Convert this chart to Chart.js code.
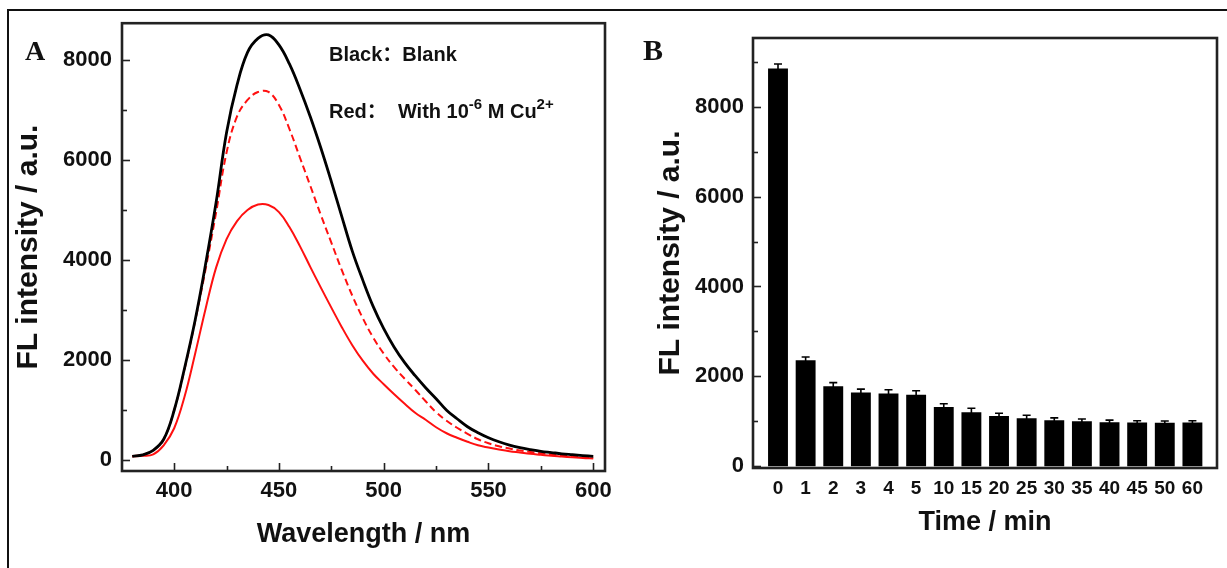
<!DOCTYPE html>
<html>
<head>
<meta charset="utf-8">
<script src="https://cdn.jsdelivr.net/npm/chart.js@4.4.1/dist/chart.umd.min.js"></script>
<style>
  html, body { margin: 0; padding: 0; background: #fff; }
  #wrap { position: relative; width: 1227px; height: 568px; overflow: hidden; }
  #frame { position: absolute; left: 7px; top: 9px; width: 1240px; height: 600px;
           border-left: 2px solid #111; border-top: 2px solid #111; }
  canvas { position: absolute; top: 0; }
  #chartA { left: 0; }
  #chartB { left: 620px; }
</style>
</head>
<body>
<div id="wrap">
  <div id="frame"></div>
  <canvas id="chartA" width="620" height="568"></canvas>
  <canvas id="chartB" width="607" height="568"></canvas>
</div>
<script>
// ---- panel A: emission spectra ----
const wavelengths = [380,385,390,395,400,405,410,415,420,425,430,435,440,445,450,455,460,465,470,475,
                     480,485,490,495,500,505,510,515,520,525,530,535,540,545,550,555,560,565,570,575,
                     580,585,590,595,600];
const blank = [80,110,200,420,1000,1850,2800,3920,5150,6550,7500,8150,8430,8500,8300,7920,7420,6860,6240,5570,
               4870,4180,3600,3070,2630,2260,1950,1690,1450,1230,1000,830,670,550,450,370,305,255,215,180,
               155,130,112,95,80];
const cuDashed = [80,110,200,420,1000,1830,2780,3820,4950,6150,6870,7200,7360,7360,7100,6620,6050,5480,4900,4350,
                  3800,3290,2840,2450,2130,1860,1630,1410,1180,960,790,650,530,420,340,280,235,195,165,140,
                  115,95,80,65,55];
const cuSolid = [80,90,120,300,640,1280,2130,3030,3850,4420,4780,5000,5110,5100,4960,4660,4280,3860,3450,3050,
                 2660,2300,1990,1730,1520,1320,1130,950,810,660,540,450,370,300,255,215,180,155,130,110,
                 90,75,60,45,35];
const specXTicks = [400,450,500,550,600];
const specXMinor = [425,475,525,575];
const specYTicks = [0,2000,4000,6000,8000];
const specYMinor = [1000,3000,5000,7000];

// ---- panel B: time course ----
const timeLabels = ['0','1','2','3','4','5','10','15','20','25','30','35','40','45','50','60'];
const fluor = [8850,2360,1780,1640,1620,1590,1320,1200,1120,1065,1025,1000,980,970,965,970];
const fluorErr = [100,70,80,75,80,90,70,90,60,70,50,50,45,40,40,40];
const barYTicks = [0,2000,4000,6000,8000];
const barYMinor = [1000,3000,5000,7000,9000];

const SANS = '"Liberation Sans", Arial, "Noto Sans CJK SC", sans-serif';
const SERIF = '"Liberation Serif", "Times New Roman", serif';
const INK = '#111';

// box round the plot area plus inward ticks on left and bottom
const frameTicks = {
  id: 'frameTicks',
  afterDraw(chart, args, opts) {
    const { ctx, chartArea: a, scales: { x, y } } = chart;
    ctx.save();
    ctx.strokeStyle = '#222';
    ctx.lineWidth = 1.6;
    const mark = (vals, len, onX) => (vals || []).forEach(v => {
      ctx.beginPath();
      if (onX) {
        const px = Math.round(x.getPixelForValue(v)) + 0.5;
        ctx.moveTo(px, a.bottom); ctx.lineTo(px, a.bottom - len);
      } else {
        const py = Math.round(y.getPixelForValue(v)) + 0.5;
        ctx.moveTo(a.left, py); ctx.lineTo(a.left + len, py);
      }
      ctx.stroke();
    });
    mark(opts.xMajor, 8, true);
    mark(opts.xMinor, 5, true);
    mark(opts.yMajor, 8, false);
    mark(opts.yMinor, 5, false);
    ctx.lineWidth = 2.6;
    ctx.strokeRect(a.left, a.top, a.right - a.left, a.bottom - a.top);
    ctx.restore();
  }
};

// panel letter and the little legend lines
const panelText = {
  id: 'panelText',
  afterDraw(chart, args, opts) {
    const ctx = chart.ctx;
    ctx.save();
    ctx.fillStyle = INK;
    ctx.textBaseline = 'alphabetic';
    ctx.font = 'bold ' + opts.letterSize + 'px ' + SERIF;
    ctx.fillText(opts.letter, opts.letterX, opts.letterY);
    (opts.lines || []).forEach(line => {
      let x = line.x;
      line.parts.forEach(([t, sup]) => {
        ctx.font = 'bold ' + (sup ? 15 : 20) + 'px ' + SANS;
        ctx.fillText(t, x, sup ? line.y - 9 : line.y);
        x += ctx.measureText(t).width;
      });
    });
    ctx.restore();
  }
};

const errorBars = {
  id: 'errorBars',
  afterDatasetsDraw(chart) {
    const { ctx, scales: { y } } = chart;
    const ds = chart.data.datasets[0];
    const meta = chart.getDatasetMeta(0);
    ctx.save();
    ctx.strokeStyle = '#000';
    ctx.lineWidth = 1.6;
    meta.data.forEach((bar, i) => {
      const v = fluor[i], e = ds.errors[i];
      const top = y.getPixelForValue(v + e);
      const low = y.getPixelForValue(v - e);
      ctx.beginPath();
      ctx.moveTo(bar.x, low); ctx.lineTo(bar.x, top);
      ctx.moveTo(bar.x - 4, top); ctx.lineTo(bar.x + 4, top);
      ctx.stroke();
    });
    ctx.restore();
  }
};

const tickFont = { family: SANS, size: 22, weight: 'bold' };

new Chart(document.getElementById('chartA'), {
  type: 'line',
  data: {
    datasets: [
      { label: 'Blank', data: wavelengths.map((w, i) => ({ x: w, y: blank[i] })),
        borderColor: '#000', borderWidth: 2.8 },
      { label: 'Cu dashed', data: wavelengths.map((w, i) => ({ x: w, y: cuDashed[i] })),
        borderColor: '#ff1010', borderWidth: 2, borderDash: [7, 4] },
      { label: 'Cu solid', data: wavelengths.map((w, i) => ({ x: w, y: cuSolid[i] })),
        borderColor: '#ff1010', borderWidth: 2 }
    ]
  },
  options: {
    responsive: false,
    animation: false,
    devicePixelRatio: 1,
    layout: { padding: { left: 0, top: 23, right: 15, bottom: 0 } },
    elements: { point: { radius: 0 }, line: { tension: 0.4 } },
    plugins: {
      legend: { display: false },
      tooltip: { enabled: false },
      frameTicks: { xMajor: specXTicks, xMinor: specXMinor, yMajor: specYTicks, yMinor: specYMinor },
      panelText: {
        letter: 'A', letterSize: 28, letterX: 25, letterY: 60,
        lines: [
          { x: 329, y: 61, parts: [['Black：Blank']] },
          { x: 329, y: 118, parts: [['Red：  With 10'], ['-6', true], [' M Cu'], ['2+', true]] }
        ]
      }
    },
    scales: {
      x: {
        type: 'linear', min: 375.1, max: 605.6,
        afterBuildTicks: s => { s.ticks = specXTicks.map(v => ({ value: v })); },
        afterFit: s => { s.height = 97; },
        grid: { display: false, drawTicks: false },
        border: { display: false },
        ticks: { font: tickFont, color: INK, padding: 7, maxRotation: 0, callback: v => String(v) },
        title: { display: true, text: 'Wavelength / nm', color: INK,
                 font: { family: SANS, size: 27, weight: 'bold' }, padding: { top: 0, bottom: 17 } }
      },
      y: {
        min: -214, max: 8734,
        afterBuildTicks: s => { s.ticks = specYTicks.map(v => ({ value: v })); },
        afterFit: s => { s.width = 122; },
        grid: { display: false, drawTicks: false },
        border: { display: false },
        ticks: { font: tickFont, color: INK, padding: 10, callback: v => String(v) },
        title: { display: true, text: 'FL intensity / a.u.', color: INK,
                 font: { family: SANS, size: 30, weight: 'bold' }, padding: { top: 11, bottom: 0 } }
      }
    }
  },
  plugins: [frameTicks, panelText]
});

new Chart(document.getElementById('chartB'), {
  type: 'bar',
  data: {
    datasets: [{
      label: 'FL intensity',
      data: timeLabels.map((t, i) => ({ x: i, y: fluor[i] })),
      errors: fluorErr,
      backgroundColor: '#000',
      borderWidth: 0
    }]
  },
  options: {
    responsive: false,
    animation: false,
    devicePixelRatio: 1,
    layout: { padding: { left: 0, top: 38, right: 10, bottom: 0 } },
    plugins: {
      legend: { display: false },
      tooltip: { enabled: false },
      frameTicks: { yMajor: barYTicks, yMinor: barYMinor },
      panelText: { letter: 'B', letterSize: 30, letterX: 23, letterY: 60 }
    },
    scales: {
      x: {
        type: 'linear', min: -0.905, max: 15.89, offset: false,
        afterBuildTicks: s => { s.ticks = timeLabels.map((t, i) => ({ value: i })); },
        afterFit: s => { s.height = 100; },
        grid: { display: false, drawTicks: false, offset: false },
        border: { display: false },
        ticks: { font: { family: SANS, size: 19, weight: 'bold' }, color: INK, padding: 9,
                 maxRotation: 0, autoSkip: false, callback: v => timeLabels[v] },
        title: { display: true, text: 'Time / min', color: INK,
                 font: { family: SANS, size: 27, weight: 'bold' }, padding: { top: 0, bottom: 29 } }
      },
      y: {
        min: -40, max: 9530,
        afterBuildTicks: s => { s.ticks = barYTicks.map(v => ({ value: v })); },
        afterFit: s => { s.width = 133; },
        grid: { display: false, drawTicks: false },
        border: { display: false },
        ticks: { font: tickFont, color: INK, padding: 9, callback: v => String(v) },
        title: { display: true, text: 'FL intensity / a.u.', color: INK,
                 font: { family: SANS, size: 30, weight: 'bold' }, padding: { top: 33, bottom: 0 } }
      }
    }
  },
  plugins: [errorBars, frameTicks, panelText]
});
</script>
</body>
</html>
